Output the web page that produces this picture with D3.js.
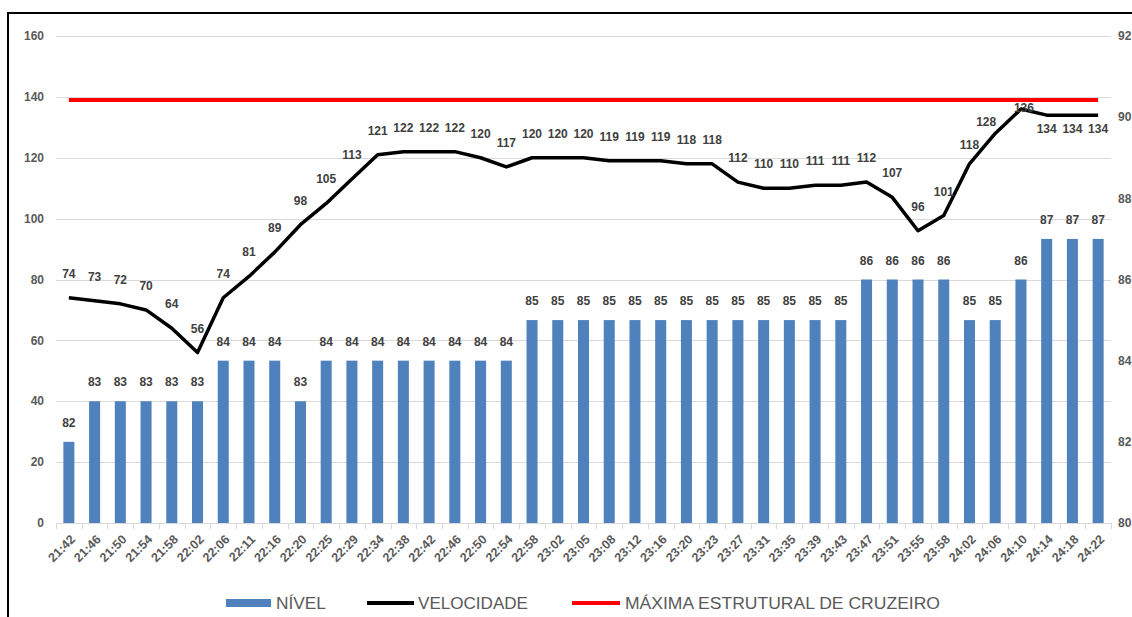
<!DOCTYPE html>
<html>
<head>
<meta charset="utf-8">
<script src="https://cdn.jsdelivr.net/npm/d3@7"></script>
<style>
  html, body { margin: 0; padding: 0; background: #ffffff; }
  svg { display: block; }
  text { font-family: "Liberation Sans", Arial, sans-serif; }
</style>
</head>
<body>
<svg id="chart" width="1132" height="617"></svg>
<script>
// ---- data ----
const times = ["21:42","21:46","21:50","21:54","21:58","22:02","22:06","22:11","22:16","22:20",
  "22:25","22:29","22:34","22:38","22:42","22:46","22:50","22:54","22:58","23:02",
  "23:05","23:08","23:12","23:16","23:20","23:23","23:27","23:31","23:35","23:39",
  "23:43","23:47","23:51","23:55","23:58","24:02","24:06","24:10","24:14","24:18","24:22"];
const nivel = [82,83,83,83,83,83,84,84,84,83,
  84,84,84,84,84,84,84,84,85,85,
  85,85,85,85,85,85,85,85,85,85,
  85,86,86,86,86,85,85,86,87,87,87];
const velocidade = [74,73,72,70,64,56,74,81,89,98,
  105,113,121,122,122,122,120,117,120,120,
  120,119,119,119,118,118,112,110,110,111,
  111,112,107,96,101,118,128,136,134,134,134];
const maximaEstrutural = 139;
const leftTicks = [0,20,40,60,80,100,120,140,160];
const rightTicks = [80,82,84,86,88,90,92];
const legendLabels = ["NÍVEL","VELOCIDADE","MÁXIMA ESTRUTURAL DE CRUZEIRO"];

// ---- layout ----
const svg = d3.select("#chart");
const plotLeft = 56, plotRight = 1111, plotTop = 36, plotBottom = 523;

const x = d3.scaleBand().domain(times).range([plotLeft, plotRight])
  .paddingInner(0.572).paddingOuter(0.286);
const y = d3.scaleLinear().domain([0,160]).range([plotBottom, plotTop]);
const yR = d3.scaleLinear().domain([80,92]).range([plotBottom, plotTop]);
const cx = d => x(d) + x.bandwidth()/2;
const step = x.step();

// frame
svg.append("path").attr("d", `M8,617 L8,13 L1132,13`)
  .attr("fill","none").attr("stroke","#000").attr("stroke-width",2);

// gridlines
svg.append("g").selectAll("line").data(leftTicks.filter(t => t > 0)).join("line")
  .attr("x1", plotLeft).attr("x2", plotRight)
  .attr("y1", d => Math.round(y(d)) + 0.5).attr("y2", d => Math.round(y(d)) + 0.5)
  .attr("stroke","#d9d9d9").attr("stroke-width",1);

// left axis labels
svg.append("g").selectAll("text").data(leftTicks).join("text")
  .attr("x", 44).attr("y", d => y(d)).attr("dy","0.35em")
  .attr("text-anchor","end").attr("font-size",12).attr("font-weight","bold")
  .attr("fill","#595959").text(d => d);

// right axis labels
svg.append("g").selectAll("text").data(rightTicks).join("text")
  .attr("x", 1118).attr("y", d => yR(d)).attr("dy","0.35em")
  .attr("text-anchor","start").attr("font-size",12).attr("font-weight","bold")
  .attr("fill","#595959").text(d => d);

// bars
svg.append("g").selectAll("rect").data(times).join("rect")
  .attr("x", d => x(d)).attr("width", x.bandwidth())
  .attr("y", (d,i) => yR(nivel[i]))
  .attr("height", (d,i) => plotBottom - yR(nivel[i]))
  .attr("fill","#4f81bd");

// bar labels
svg.append("g").selectAll("text").data(times).join("text")
  .attr("x", d => cx(d)).attr("y", (d,i) => yR(nivel[i]) - 15)
  .attr("text-anchor","middle").attr("font-size",12).attr("font-weight","bold")
  .attr("fill","#404040").text((d,i) => nivel[i]);

// bottom axis
const axisG = svg.append("g");
axisG.append("line").attr("x1", plotLeft).attr("x2", plotRight)
  .attr("y1", plotBottom + 0.5).attr("y2", plotBottom + 0.5)
  .attr("stroke","#d9d9d9").attr("stroke-width",1);
const boundaries = d3.range(times.length + 1).map(i => plotLeft + i*step);
axisG.selectAll("line.tk").data(boundaries).join("line").attr("class","tk")
  .attr("x1", d => Math.round(d) + 0.5).attr("x2", d => Math.round(d) + 0.5)
  .attr("y1", plotBottom).attr("y2", plotBottom + 6)
  .attr("stroke","#d9d9d9").attr("stroke-width",1);
axisG.selectAll("text").data(times).join("text")
  .attr("transform", d => `translate(${cx(d) + 4},${plotBottom + 14}) rotate(-45)`)
  .attr("text-anchor","end").attr("dy","0.35em")
  .attr("font-size",12.5).attr("font-weight","bold").attr("fill","#595959")
  .text(d => d);

// red max line
svg.append("line")
  .attr("x1", cx(times[0])).attr("x2", cx(times[times.length-1]))
  .attr("y1", y(maximaEstrutural)).attr("y2", y(maximaEstrutural))
  .attr("stroke","#ff0000").attr("stroke-width",4);

// velocity line
const line = d3.line().x((d,i) => cx(times[i])).y(d => y(d));
svg.append("path").datum(velocidade).attr("d", line)
  .attr("fill","none").attr("stroke","#000").attr("stroke-width",3.5)
  .attr("stroke-linejoin","round");

// velocity labels (default above; a few moved as in the original)
const n = velocidade.length;
const labelDx = i => (i === n - 5 ? -9 : i === n - 4 ? 3 : 0);
const labelDy = i => {
  if (i >= n - 3) return 18;     // below the flat end
  if (i === n - 6) return -15;   // slightly lower above
  if (i === n - 5) return -7;    // upper-left of the climb
  if (i === n - 4) return 3;     // on the peak
  return -20;                    // above
};
svg.append("g").selectAll("text").data(velocidade).join("text")
  .attr("x", (d,i) => cx(times[i]) + labelDx(i))
  .attr("y", (d,i) => y(d) + labelDy(i))
  .attr("text-anchor", "middle")
  .attr("font-size",12).attr("font-weight","bold").attr("fill","#404040")
  .text(d => d);

// legend
const lg = svg.append("g").attr("font-size",16).attr("fill","#595959");
const ly = 603;
lg.append("rect").attr("x",226).attr("y",ly-4).attr("width",45).attr("height",8).attr("fill","#4f81bd");
lg.append("text").attr("x",276).attr("y",ly).attr("dy","0.35em").attr("fill","#595959")
  .attr("textLength",50).attr("lengthAdjust","spacingAndGlyphs").text(legendLabels[0]);
lg.append("line").attr("x1",367).attr("x2",414).attr("y1",ly).attr("y2",ly).attr("stroke","#000").attr("stroke-width",4);
lg.append("text").attr("x",418).attr("y",ly).attr("dy","0.35em").attr("fill","#595959")
  .attr("textLength",110).attr("lengthAdjust","spacingAndGlyphs").text(legendLabels[1]);
lg.append("line").attr("x1",572).attr("x2",620).attr("y1",ly).attr("y2",ly).attr("stroke","#ff0000").attr("stroke-width",4);
lg.append("text").attr("x",625).attr("y",ly).attr("dy","0.35em").attr("fill","#595959")
  .attr("textLength",315).attr("lengthAdjust","spacingAndGlyphs").text(legendLabels[2]);
</script>
</body>
</html>
